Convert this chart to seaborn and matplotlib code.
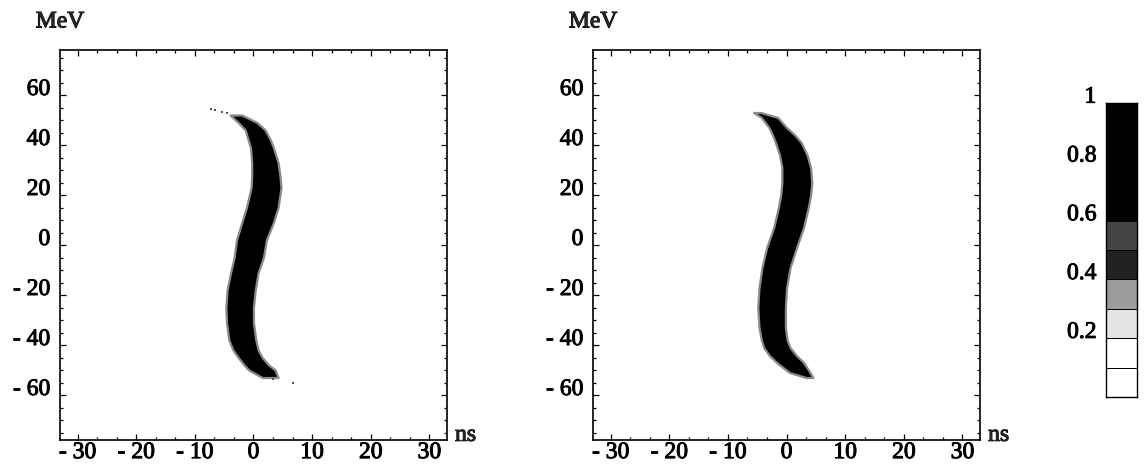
import numpy as np
import pandas as pd
import matplotlib
matplotlib.use("Agg")
import matplotlib.pyplot as plt
import matplotlib.transforms as mtransforms
import matplotlib.patheffects as pe
from matplotlib.colors import ListedColormap
from matplotlib.ticker import MultipleLocator
import seaborn as sns

# ---------------- data ----------------
# Panel 1: band of the bunch, energy (MeV) with left/right time edges (ns)
p1_energy = [52, 49, 46, 42, 39, 33, 28, 23, 15, 9, 2, -5, -11, -18, -25, -31, -38, -42, -45, -48, -50, -53]
p1_left   = [-4.0, -2.6, -1.4, -0.9, -0.5, -0.3, -0.3, -0.4, -1.2, -2.0, -2.9, -3.3, -3.9, -4.5, -4.7, -4.6, -4.2, -3.5, -2.6, -1.6, -0.8, 1.5]
p1_right  = [-2.0, 0.6, 2.0, 2.9, 3.4, 4.2, 4.5, 4.7, 4.2, 3.4, 2.2, 1.7, 0.8, 0.3, 0.0, 0.0, 0.4, 0.8, 1.5, 2.6, 3.7, 4.2]
p1_stray_t = [-7.2, -6.5, -5.3, -4.5, 3.3, 6.8]
p1_stray_e = [54.5, 54.0, 53.3, 52.8, -53.5, -55.3]

# Panel 2
p2_energy = [53, 51, 47, 44, 41, 36, 31, 25, 20, 15, 7, -1, -9, -17, -25, -33, -38, -41, -44, -47, -51, -53]
p2_left   = [-5.6, -4.3, -3.0, -2.4, -1.9, -1.2, -0.8, -0.8, -1.0, -1.4, -2.2, -3.4, -4.2, -4.7, -4.9, -4.7, -4.3, -3.9, -3.0, -1.7, 0.5, 3.3]
p2_right  = [-4.4, -1.5, 0.0, 1.4, 2.5, 3.5, 4.1, 4.3, 4.1, 3.7, 2.9, 1.7, 0.6, 0.0, -0.2, -0.2, 0.1, 0.6, 1.6, 2.9, 4.0, 4.5]

# Colour scale (levels and grey of each band, bottom to top)
cbar_levels = [0.0, 0.1, 0.2, 0.3, 0.4, 0.5, 0.6, 0.7, 0.8, 0.9, 1.0]
cbar_grays = ["#ffffff", "#ffffff", "#e4e4e4", "#9c9c9c", "#222222", "#454545",
              "#000000", "#000000", "#000000", "#000000"]
cbar_ticks = [1.0, 0.8, 0.6, 0.4, 0.2]
cbar_ticklabels = ["1", "0.8", "0.6", "0.4", "0.2"]

x_ticks = [-30, -20, -10, 0, 10, 20, 30]
x_ticklabels = ["- 30", "- 20", "- 10", "0", "10", "20", "30"]
y_ticks = [-60, -40, -20, 0, 20, 40, 60]
y_ticklabels = ["- 60", "- 40", "- 20", "0", "20", "40", "60"]

# ---------------- style ----------------
sns.set_theme(style="ticks")
plt.rcParams["font.family"] = ["Liberation Serif", "DejaVu Serif"]
plt.rcParams["axes.linewidth"] = 1.2

FS = 17
THICK = [pe.withStroke(linewidth=0.7, foreground="black")]

fig = plt.figure(figsize=(11.44, 4.70), dpi=100)
ax1 = fig.add_axes([0.0524, 0.0638, 0.3383, 0.8298])
ax2 = fig.add_axes([0.5184, 0.0638, 0.3383, 0.8298])
cax = fig.add_axes([0.9668, 0.1553, 0.0271, 0.6255])

def draw_panel(ax, energy, left, right, stray_t=None, stray_e=None):
    ax.set_facecolor("white")
    ax.fill_betweenx(energy, left, right, facecolor="black",
                     edgecolor="#8a8a8a", linewidth=1.6, zorder=2,
                     joinstyle="round")
    if stray_t:
        df = pd.DataFrame({"t": stray_t, "E": stray_e})
        sns.scatterplot(data=df, x="t", y="E", ax=ax, color="#555555",
                        s=4, marker="s", linewidth=0, zorder=3, legend=False)
    ax.set_xlim(-33, 33)
    ax.set_ylim(-78, 78)
    ax.set_xticks(x_ticks)
    ax.set_xticklabels(x_ticklabels)
    ax.set_yticks(y_ticks)
    ax.set_yticklabels(y_ticklabels, va="baseline")
    ax.xaxis.set_minor_locator(MultipleLocator(10 / 3))
    ax.yaxis.set_minor_locator(MultipleLocator(5))
    ax.tick_params(which="both", direction="in", top=True, right=True,
                   color="black", width=0.9, labelsize=FS, labelcolor="black")
    ax.tick_params(which="major", length=4)
    ax.tick_params(which="minor", length=2)
    ax.tick_params(axis="x", pad=1.5)
    ax.tick_params(axis="y", pad=7)
    for sp in ax.spines.values():
        sp.set_visible(True)
        sp.set_color("black")
    ax.set_xlabel("")
    ax.set_ylabel("")
    for lab in ax.get_yticklabels():
        lab.set_verticalalignment("baseline")
        lab.set_path_effects(THICK)
    for lab in ax.get_xticklabels():
        lab.set_path_effects(THICK)
    ax.text(0.0, 1.072, "MeV", transform=ax.transAxes, ha="center",
            va="center", fontsize=FS, path_effects=THICK)
    ax.text(1.048, 0.012, "ns", transform=ax.transAxes, ha="center",
            va="center", fontsize=FS, path_effects=THICK)

draw_panel(ax1, p1_energy, p1_left, p1_right, p1_stray_t, p1_stray_e)
draw_panel(ax2, p2_energy, p2_left, p2_right)

# ---------------- colour bar drawn with seaborn heatmap ----------------
mids = [(a + b) / 2 for a, b in zip(cbar_levels[:-1], cbar_levels[1:])]
col = pd.DataFrame({"v": mids[::-1]})  # top row = highest level
cmap = ListedColormap(cbar_grays)
sns.heatmap(col, ax=cax, cmap=cmap, vmin=0, vmax=1, cbar=False,
            linewidths=0.7, linecolor="black", xticklabels=False,
            yticklabels=False)
for sp in cax.spines.values():
    sp.set_visible(True)
    sp.set_color("black")
    sp.set_linewidth(1.0)
n = len(mids)
cax.set_yticks([n * (1 - v) for v in cbar_ticks])
cax.set_yticklabels(cbar_ticklabels)
cax.tick_params(axis="y", left=False, labelleft=True, labelsize=FS,
                pad=1, labelcolor="black")
off_c = mtransforms.ScaledTranslation(0, 6 / 72, fig.dpi_scale_trans)
for lab in cax.get_yticklabels():
    lab.set_transform(lab.get_transform() + off_c)
    lab.set_rotation(0)
    lab.set_path_effects(THICK)
cax.set_xlabel("")
cax.set_ylabel("")

fig.savefig("out.png", dpi=100, facecolor="white")
